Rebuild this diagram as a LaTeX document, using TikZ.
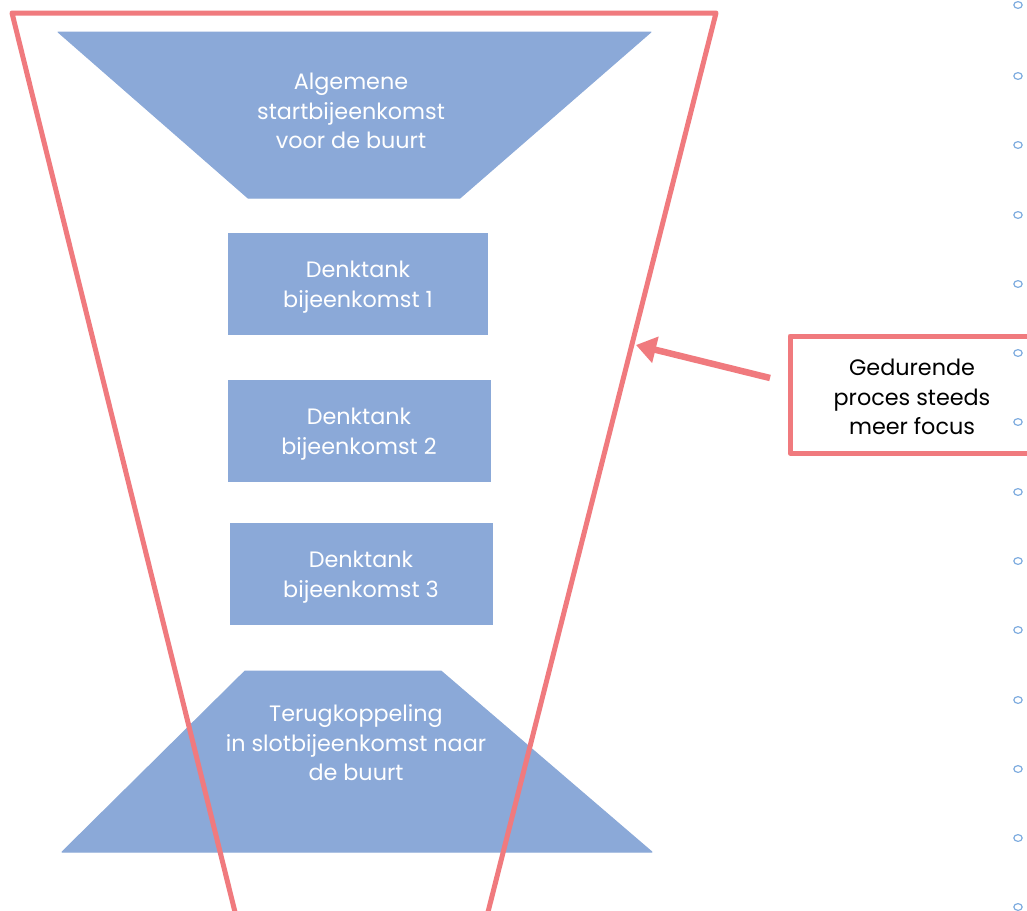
\documentclass[tikz,border=0pt]{standalone}
\usepackage{fontspec}
\setmainfont{Poppins}
\usetikzlibrary{arrows.meta}
\definecolor{funnelred}{RGB}{240,122,126}
\definecolor{stepblue}{RGB}{139,169,216}
\definecolor{dotblue}{RGB}{120,168,222}
\tikzset{
  blueshape/.style={fill=stepblue, draw=stepblue, line width=1pt, line join=round},
  whitetext/.style={text=white, align=center, font=\fontsize{22.3}{29.6}\selectfont},
  stepbox/.style={fill=stepblue, draw=none},
  redline/.style={draw=funnelred, line width=5pt, line join=round},
  dot/.style={draw=dotblue, line width=1.1pt}
}
\begin{document}
\begin{tikzpicture}[x=1pt,y=-1pt]
\useasboundingbox (0,0) rectangle (1027,910);
\fill[white] (0,0) rectangle (1027,910);
% top trapezoid
\draw[blueshape] (58,32) -- (651,32) -- (460,198) -- (248,198) -- cycle;
\node[whitetext] (t1) at (351,111) {Algemene\\startbijeenkomst\\voor de buurt};
% boxes
\fill[stepbox] (228,233) rectangle (488,335);
\node[whitetext] (b1) at (358,287) {Denktank\\bijeenkomst 1};
\fill[stepbox] (228,380) rectangle (491,482);
\node[whitetext] (b2) at (359,434) {Denktank\\bijeenkomst 2};
\fill[stepbox] (230,523) rectangle (493,625);
\node[whitetext] (b3) at (361,577) {Denktank\\bijeenkomst 3};
% bottom trapezoid
\draw[blueshape] (245,671) -- (441,671) -- (652,852) -- (62,852) -- cycle;
\node[whitetext] (t2) at (356,743) {Terugkoppeling\\in slotbijeenkomst naar\\de buurt};
% funnel outline
\draw[redline] (235,912) -- (12,13) -- (716,13) -- (488,912);
\coordinate (tip) at (636,345);
% callout
\draw[redline] (1035,336) -- (790,336) -- (790,453) -- (1035,453);
\node[text=black, align=center, font=\fontsize{22.3}{29.6}\selectfont] (call) at (912,397) {Gedurende\\proces steeds\\meer focus};
\coordinate (tail) at (770,378);
\draw[draw=funnelred, line width=6.5pt, -{Triangle[length=20pt,width=26pt]}] (tail) -- (tip);
% dots
\foreach \y in {5,76,145,215,284,353,422,492,561,630,700,769,838,907}
  \draw[dot] (1018,\y) ellipse (4.2pt and 3.4pt);
\end{tikzpicture}
\end{document}
